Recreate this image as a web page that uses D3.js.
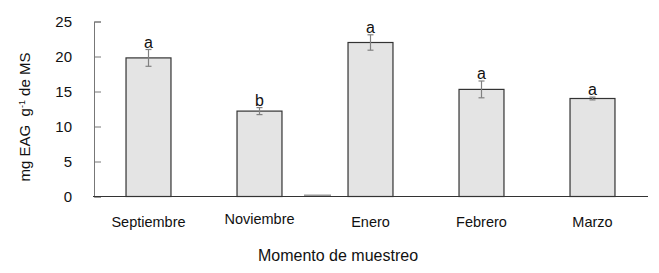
<!DOCTYPE html>
<html>
<head>
<meta charset="utf-8">
<script src="https://cdn.jsdelivr.net/npm/d3@7"></script>
<style>
body { margin: 0; background: #fff; }
text { font-family: "Liberation Sans", Arial, sans-serif; fill: #111; }
</style>
</head>
<body>
<script>
//Width and height
var w = 659;
var h = 273;

// data
var months = ["Septiembre", "Noviembre", "Enero", "Febrero", "Marzo"];
var means = [19.8, 12.2, 22.0, 15.3, 14.0];
var errs = [1.2, 0.5, 1.1, 1.2, 0.2];
var letters = ["a", "b", "a", "a", "a"];
var yTicks = [0, 5, 10, 15, 20, 25];

//Create SVG element
var svg = d3.select("body")
            .append("svg")
            .attr("width", w)
            .attr("height", h);

// x centres of bars
var x = d3.scalePoint()
          .domain(months)
          .range([93, 648])
          .padding(0.5);
var barW = x.step() * 0.405;

var y = d3.scaleLinear()
          .domain([0, 25])
          .range([196.5, 21.5]);

// y axis, ticks pointing inward
var yAxis = d3.axisRight(y)
              .tickValues(yTicks)
              .tickSize(7)
              .tickFormat(d3.format("d"));
var gy = svg.append("g")
            .attr("transform", "translate(94,0)")
            .call(yAxis);
gy.select(".domain").attr("stroke", "#777");
gy.selectAll(".tick line").attr("stroke", "#777");
gy.selectAll(".tick text")
  .attr("x", -22)
  .attr("dy", "0.36em")
  .attr("text-anchor", "end")
  .style("font-size", "15px")
  .style("font-family", "Liberation Sans, Arial, sans-serif")
  .attr("fill", "#111");

// bars
svg.selectAll("rect.bar")
   .data(means)
   .enter()
   .append("rect")
   .attr("class", "bar")
   .attr("x", function(d, i){ return x(months[i]) - barW / 2; })
   .attr("y", function(d){ return y(d); })
   .attr("width", barW)
   .attr("height", function(d){ return y(0) - y(d); })
   .style("fill", "#e4e4e4")
   .style("stroke", "#333")
   .style("stroke-width", 1.2);

// stray grey mark on the baseline between Noviembre and Enero
var mid = (x("Noviembre") + x("Enero")) / 2;
svg.append("line")
   .attr("x1", mid - 11).attr("x2", mid + 16)
   .attr("y1", y(0) - 1).attr("y2", y(0) - 1)
   .style("stroke", "#999")
   .style("stroke-width", 2);

// x axis line
svg.append("line")
   .attr("x1", 93).attr("x2", 648)
   .attr("y1", y(0)).attr("y2", y(0))
   .style("stroke", "#333")
   .style("stroke-width", 1.2);

// error bars
var eb = svg.selectAll("g.err")
            .data(means)
            .enter()
            .append("g")
            .attr("class", "err")
            .style("stroke", "#808080")
            .style("stroke-width", 1.2);
eb.append("line")
  .attr("x1", function(d, i){ return x(months[i]); })
  .attr("x2", function(d, i){ return x(months[i]); })
  .attr("y1", function(d, i){ return y(d + errs[i]); })
  .attr("y2", function(d, i){ return y(d - errs[i]); });
[1, -1].forEach(function(s){
    eb.append("line")
      .attr("x1", function(d, i){ return x(months[i]) - 3; })
      .attr("x2", function(d, i){ return x(months[i]) + 3; })
      .attr("y1", function(d, i){ return y(d + s * errs[i]); })
      .attr("y2", function(d, i){ return y(d + s * errs[i]); });
});

// significance letters
svg.selectAll("text.sig")
   .data(letters)
   .enter()
   .append("text")
   .attr("class", "sig")
   .attr("x", function(d, i){ return x(months[i]); })
   .attr("y", function(d, i){ return y(means[i] + errs[i]) - 2; })
   .attr("text-anchor", "middle")
   .style("font-size", "16px")
   .text(function(d){ return d; });

// category labels
svg.selectAll("text.cat")
   .data(months)
   .enter()
   .append("text")
   .attr("class", "cat")
   .attr("x", function(d){ return x(d); })
   .attr("y", function(d, i){ return i == 1 ? 224 : 227; })
   .attr("text-anchor", "middle")
   .style("font-size", "14.5px")
   .text(function(d){ return d; });

// axis titles
svg.append("text")
   .attr("x", 338)
   .attr("y", 261)
   .attr("text-anchor", "middle")
   .style("font-size", "16px")
   .text("Momento de muestreo");

var yl = svg.append("text")
   .attr("transform", "translate(30,117) rotate(-90)")
   .attr("text-anchor", "middle")
   .style("font-size", "15px");
yl.append("tspan").text("mg EAG\u00a0\u00a0g");
yl.append("tspan").attr("dy", -5).style("font-size", "9px").text("-1");
yl.append("tspan").attr("dy", 5).text(" de MS");
</script>
</body>
</html>
